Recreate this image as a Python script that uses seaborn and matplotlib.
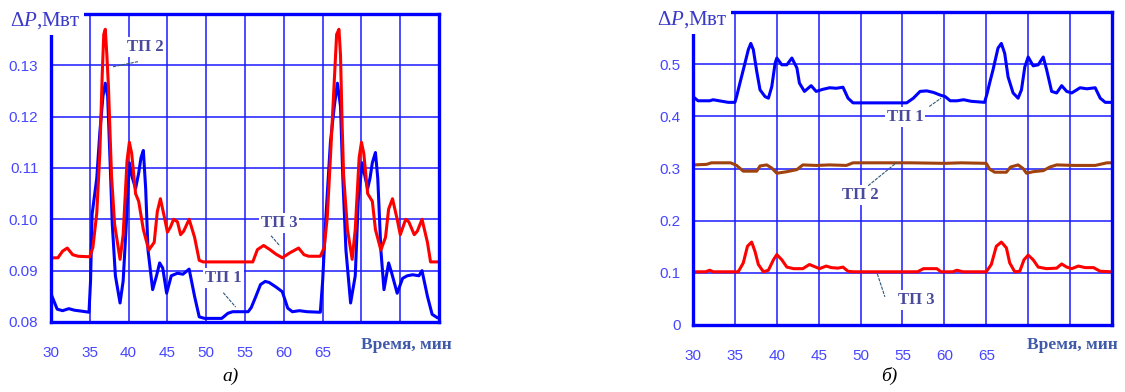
import numpy as np
import pandas as pd
import matplotlib
matplotlib.use("Agg")
import matplotlib.pyplot as plt
import seaborn as sns

# ---------------- data: panel a) ----------------
a_t1 = [30.0, 30.4, 30.8, 31.5, 32.3, 33.0, 34.0, 34.9, 35.1, 35.3, 35.9, 36.3, 36.7, 37.0, 37.3, 37.6,
        37.9, 38.3, 38.9, 39.3, 39.7, 40.1, 40.5, 40.9, 41.3, 41.6, 41.9, 42.2, 42.5, 43.1, 43.6, 44.0,
        44.4, 44.9, 45.5, 46.3, 47.0, 47.8, 48.5, 49.1, 49.8, 52.0, 52.8, 53.4, 55.4, 55.8, 56.4, 57.0,
        57.6, 58.1, 59.0, 59.8, 60.5, 61.1, 62.0, 63.0, 64.7, 65.0, 65.4, 66.0, 66.5, 66.9, 67.3, 67.6,
        68.0, 68.6, 69.2, 69.6, 70.1, 70.5, 70.8, 71.1, 71.4, 71.8, 72.1, 72.5, 72.9, 73.5, 73.9, 74.6,
        75.3, 75.9, 76.6, 77.4, 77.8, 78.5, 79.1, 79.8, 80.0]
a_p1 = [0.0855, 0.084, 0.0825, 0.0822, 0.0826, 0.0823, 0.0821, 0.0819, 0.088, 0.101, 0.108, 0.117, 0.124, 0.1265, 0.124, 0.112,
        0.099, 0.089, 0.0837, 0.088, 0.099, 0.111, 0.108, 0.106, 0.109, 0.112, 0.1134, 0.106, 0.094, 0.0863, 0.089, 0.0915,
        0.0905, 0.0856, 0.089, 0.0895, 0.0893, 0.0903, 0.085, 0.081, 0.0807, 0.0807, 0.0817, 0.082, 0.082, 0.0828, 0.085, 0.0873,
        0.0879, 0.0877, 0.0868, 0.0859, 0.0827, 0.082, 0.0822, 0.082, 0.0819, 0.088, 0.1, 0.115, 0.122, 0.1265, 0.122, 0.108,
        0.094, 0.0837, 0.089, 0.104, 0.111, 0.108, 0.106, 0.108, 0.111, 0.113, 0.108, 0.094, 0.0863, 0.0915, 0.0895, 0.0856,
        0.0885, 0.089, 0.0892, 0.089, 0.09, 0.085, 0.0815, 0.0808, 0.0808]

a_t3 = [30.0, 30.9, 31.5, 32.1, 32.8, 33.5, 35.0, 35.4, 35.9, 36.3, 36.6, 36.8, 37.0, 37.2, 37.4, 37.8,
        38.2, 38.9, 39.3, 39.8, 40.1, 40.4, 40.9, 41.3, 41.9, 42.6, 43.3, 43.7, 44.1, 44.6, 45.0, 45.4,
        45.8, 46.3, 46.7, 47.1, 47.8, 48.5, 49.1, 49.6, 56.0, 56.6, 57.4, 58.2, 59.0, 59.8, 60.7, 61.9,
        62.6, 63.2, 64.7, 65.2, 65.6, 66.0, 66.5, 66.8, 67.1, 67.3, 67.5, 67.7, 68.2, 68.8, 69.2, 69.7,
        70.0, 70.3, 70.8, 71.4, 71.8, 72.5, 73.1, 73.5, 74.0, 74.6, 75.0, 75.7, 76.1, 76.8, 77.2, 77.8,
        78.5, 78.9, 80.0]
a_p3 = [0.0925, 0.0925, 0.0938, 0.0944, 0.0931, 0.0928, 0.0927, 0.0945, 0.1012, 0.113, 0.128, 0.136, 0.137, 0.132, 0.126, 0.1085,
        0.099, 0.0922, 0.097, 0.1114, 0.115, 0.1128, 0.105, 0.1035, 0.098, 0.094, 0.0955, 0.1015, 0.104, 0.1005, 0.0975, 0.0985,
        0.1, 0.0995, 0.097, 0.0977, 0.1, 0.0965, 0.092, 0.0917, 0.0917, 0.0941, 0.0949, 0.0941, 0.0932, 0.0925, 0.0934, 0.0944,
        0.0931, 0.0928, 0.0928, 0.0945, 0.1005, 0.112, 0.127, 0.136, 0.137, 0.132, 0.119, 0.1085, 0.098, 0.0922, 0.098, 0.112,
        0.115, 0.1128, 0.105, 0.1035, 0.098, 0.094, 0.0965, 0.102, 0.104, 0.1, 0.097, 0.1, 0.0995, 0.097, 0.0977, 0.1,
        0.0955, 0.0917, 0.0917]

# ---------------- data: panel б) ----------------
b_t1 = [30.0, 30.6, 32.0, 32.4, 34.2, 35.0, 35.2, 35.6, 36.2, 36.6, 36.9, 37.2, 37.6, 38.0, 38.6, 39.0,
        39.4, 39.8, 40.0, 40.6, 41.2, 41.8, 42.4, 42.7, 43.3, 44.1, 44.7, 45.5, 46.3, 47.1, 47.9, 48.5,
        49.1, 55.0, 55.5, 56.3, 57.1, 57.9, 58.7, 59.5, 60.1, 60.7, 61.5, 62.3, 63.2, 64.8, 65.1, 65.4,
        65.8, 66.4, 66.8, 67.2, 67.6, 68.2, 68.8, 69.2, 69.6, 70.0, 70.6, 71.2, 71.8, 72.2, 72.8, 73.4,
        74.0, 74.6, 75.2, 76.2, 77.0, 78.0, 78.6, 79.2, 80.0]
b_p1 = [0.438, 0.430, 0.430, 0.432, 0.427, 0.427, 0.438, 0.464, 0.502, 0.528, 0.540, 0.528, 0.487, 0.451, 0.438, 0.435,
        0.457, 0.502, 0.512, 0.499, 0.499, 0.512, 0.493, 0.464, 0.448, 0.459, 0.448, 0.452, 0.455, 0.454, 0.456, 0.435,
        0.426, 0.426, 0.426, 0.435, 0.448, 0.449, 0.446, 0.441, 0.438, 0.430, 0.430, 0.432, 0.429, 0.427, 0.444, 0.464,
        0.489, 0.531, 0.540, 0.521, 0.476, 0.445, 0.435, 0.451, 0.495, 0.514, 0.497, 0.499, 0.514, 0.490, 0.448, 0.445,
        0.459, 0.448, 0.445, 0.455, 0.453, 0.455, 0.435, 0.427, 0.427]

b_t2 = [30.0, 31.6, 32.2, 34.5, 35.2, 36.0, 37.6, 38.0, 38.8, 39.4, 40.0, 41.2, 42.4, 43.1, 44.7, 46.3,
        48.3, 49.1, 56.0, 60.0, 62.0, 65.0, 65.4, 66.0, 67.4, 67.9, 68.8, 69.4, 69.8, 70.6, 71.8, 72.6,
        73.4, 75.5, 78.0, 79.4, 80.0]
b_p2 = [0.307, 0.308, 0.311, 0.311, 0.306, 0.295, 0.295, 0.305, 0.307, 0.301, 0.291, 0.294, 0.298, 0.307, 0.306, 0.307,
        0.306, 0.311, 0.311, 0.310, 0.311, 0.310, 0.299, 0.293, 0.293, 0.303, 0.307, 0.300, 0.291, 0.294, 0.296, 0.303,
        0.307, 0.306, 0.306, 0.311, 0.311]

b_t3 = [30.0, 31.5, 32.0, 32.4, 35.4, 36.0, 36.5, 37.0, 37.4, 37.8, 38.4, 39.0, 39.6, 40.0, 40.6, 41.2,
        42.0, 43.1, 43.9, 44.5, 45.1, 45.9, 46.5, 47.3, 47.9, 48.5, 49.1, 56.8, 57.5, 59.1, 59.6, 61.0,
        61.5, 62.2, 65.0, 65.6, 66.2, 66.8, 67.4, 67.8, 68.4, 69.0, 69.5, 70.0, 70.6, 71.2, 72.2, 73.4,
        74.0, 74.6, 75.2, 76.0, 76.8, 77.8, 78.6, 80.0]
b_p3 = [0.102, 0.102, 0.105, 0.102, 0.102, 0.119, 0.151, 0.159, 0.141, 0.116, 0.102, 0.105, 0.125, 0.135, 0.125, 0.111,
        0.108, 0.108, 0.116, 0.112, 0.108, 0.113, 0.110, 0.109, 0.111, 0.103, 0.102, 0.102, 0.108, 0.108, 0.102, 0.102,
        0.105, 0.102, 0.102, 0.116, 0.151, 0.159, 0.148, 0.119, 0.102, 0.103, 0.125, 0.134, 0.125, 0.111, 0.108, 0.109,
        0.117, 0.111, 0.108, 0.113, 0.110, 0.110, 0.103, 0.102]

x_ticks = [30, 35, 40, 45, 50, 55, 60, 65, 70, 75, 80]
x_labels = ["30", "35", "40", "45", "50", "55", "60", "65", "", "", ""]
a_yticks = [0.08, 0.09, 0.10, 0.11, 0.12, 0.13, 0.14]
a_ylabels = ["0.08", "0.09", "0.10", "0.11", "0.12", "0.13", ""]
b_yticks = [0.0, 0.1, 0.2, 0.3, 0.4, 0.5, 0.6]
b_ylabels = ["0", "0.1", "0.2", "0.3", "0.4", "0.5", ""]

# ---------------- style ----------------
sns.set_theme(style="white")
plt.rcParams["font.family"] = ["Liberation Serif", "DejaVu Serif"]
plt.rcParams["mathtext.fontset"] = "custom"
plt.rcParams["mathtext.rm"] = "Liberation Serif"
plt.rcParams["mathtext.it"] = "Liberation Serif:italic"

BLUE = "#0000ff"
GRID = "#1a1aff"
RED = "#ff0000"
BROWN = "#a0420f"
TICKC = "#4646ff"
LBLC = "#4a4a9c"
AXLBL = "#3f5aa8"
LEADER = "#2f5878"

fig = plt.figure(figsize=(11.25, 3.92), dpi=100)
axA = fig.add_axes([0.0453, 0.1786, 0.345, 0.786])
axB = fig.add_axes([0.616, 0.171, 0.3724, 0.798])


def style_axes(ax, yticks, ylabels, ylim):
    ax.set_xlim(30, 80)
    ax.set_ylim(*ylim)
    ax.set_xticks(x_ticks)
    ax.set_xticklabels(x_labels)
    ax.set_yticks(yticks)
    ax.set_yticklabels(ylabels)
    ax.grid(True, color=GRID, lw=1.1)
    for s in ax.spines.values():
        s.set_visible(True)
        s.set_color(BLUE)
        s.set_linewidth(2.4)
    ax.tick_params(axis="both", length=0, labelcolor=TICKC, labelsize=11)
    ax.tick_params(axis="x", pad=17)
    ax.tick_params(axis="y", pad=9)
    for lab in ax.get_xticklabels() + ax.get_yticklabels():
        lab.set_fontfamily(["Liberation Sans", "DejaVu Sans"])
    ax.set_xlabel("")
    ax.set_ylabel("")


# panel a
sns.lineplot(x=a_t1, y=a_p1, ax=axA, color=BLUE, lw=2.2, estimator=None, sort=False)
sns.lineplot(x=a_t3, y=a_p3, ax=axA, color=RED, lw=2.2, estimator=None, sort=False)
style_axes(axA, a_yticks, a_ylabels, (0.08, 0.14))

# panel b
sns.lineplot(x=b_t1, y=b_p1, ax=axB, color=BLUE, lw=2.2, estimator=None, sort=False)
sns.lineplot(x=b_t2, y=b_p2, ax=axB, color=BROWN, lw=2.2, estimator=None, sort=False)
sns.lineplot(x=b_t3, y=b_p3, ax=axB, color=RED, lw=2.2, estimator=None, sort=False)
style_axes(axB, b_yticks, b_ylabels, (0.0, 0.6))

white_box = dict(facecolor="white", edgecolor="none", pad=1.5)

# y-axis titles (cover the corner of the frame)
for ax, xy in ((axA, (10, 21)), (axB, (657, 20))):
    fig.text(xy[0] / 1125, 1 - xy[1] / 392, r"$\Delta P$,Мвт", fontsize=15, color="#3a3ac8",
             ha="left", va="center", zorder=20,
             bbox=dict(facecolor="white", edgecolor="none", pad=2.5))

# x-axis titles
fig.text(452 / 1125, 1 - 345 / 392, "Время, мин", fontsize=12.5, fontweight="bold", color=AXLBL,
         ha="right", va="center")
fig.text(1118 / 1125, 1 - 345 / 392, "Время, мин", fontsize=12.5, fontweight="bold", color=AXLBL,
         ha="right", va="center")

# panel captions
fig.text(231 / 1125, 1 - 376 / 392, "а)", fontsize=14, style="italic", color="black", ha="center", va="center")
fig.text(889 / 1125, 1 - 376 / 392, "б)", fontsize=14, style="italic", color="black", ha="center", va="center")


def label(ax, text, txy, p0, p1):
    ax.text(txy[0], txy[1], text, fontsize=12, fontweight="bold", color=LBLC, ha="center", va="center",
            zorder=6, bbox=white_box)
    ax.plot([p0[0], p1[0]], [p0[1], p1[1]], color=LEADER, lw=0.8, ls=(0, (3, 1)), zorder=7)


label(axA, "ТП 2", (42.1, 0.1335), (38.0, 0.1297), (41.2, 0.1307))
label(axA, "ТП 3", (59.4, 0.0993), (58.35, 0.0968), (59.5, 0.0948))
label(axA, "ТП 1", (52.2, 0.0886), (52.2, 0.0857), (53.8, 0.0829))

label(axB, "ТП 1", (55.3, 0.398), (58.2, 0.419), (59.6, 0.435))
label(axB, "ТП 2", (50.0, 0.250), (50.9, 0.267), (54.3, 0.3115))
label(axB, "ТП 3", (56.6, 0.048), (52.0, 0.098), (52.9, 0.054))

fig.savefig("out.png", dpi=100, facecolor="white")
